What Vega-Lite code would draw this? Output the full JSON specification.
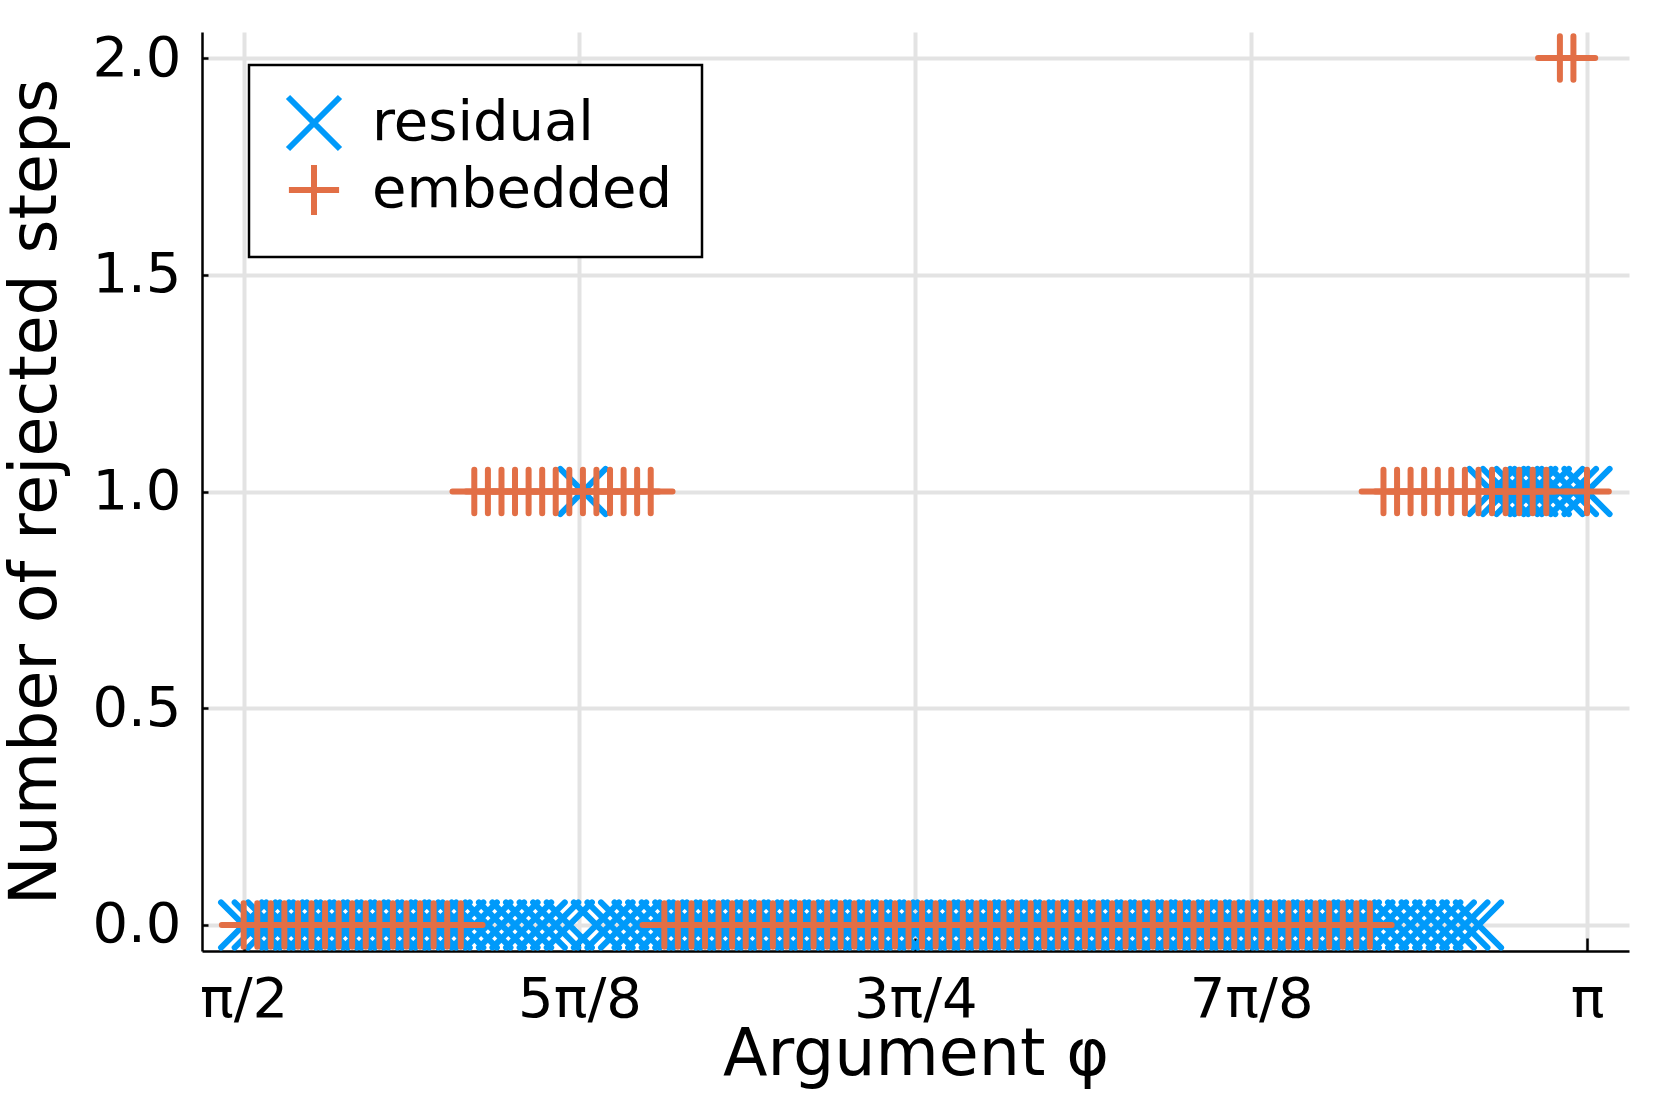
{
"$schema": "https://vega.github.io/schema/vega-lite/v6.json",
"width": 1427,
"height": 919,
"autosize": {"type": "none"},
"padding": {"left": 202, "top": 32, "right": 32, "bottom": 156},
"background": "white",
"config": {"view": {"stroke": null}, "font": "DejaVu Sans", "legend": {"strokeWidth": 2.5}},
"data": {"values": [
{"phi":1.5708,"steps":0,"method":"residual"},{"phi":1.5867,"steps":0,"method":"residual"},{"phi":1.6025,"steps":0,"method":"residual"},{"phi":1.6184,"steps":0,"method":"residual"},{"phi":1.6343,"steps":0,"method":"residual"},{"phi":1.6501,"steps":0,"method":"residual"},{"phi":1.6660,"steps":0,"method":"residual"},{"phi":1.6819,"steps":0,"method":"residual"},{"phi":1.6977,"steps":0,"method":"residual"},{"phi":1.7136,"steps":0,"method":"residual"},
{"phi":1.7295,"steps":0,"method":"residual"},{"phi":1.7453,"steps":0,"method":"residual"},{"phi":1.7612,"steps":0,"method":"residual"},{"phi":1.7771,"steps":0,"method":"residual"},{"phi":1.7929,"steps":0,"method":"residual"},{"phi":1.8088,"steps":0,"method":"residual"},{"phi":1.8247,"steps":0,"method":"residual"},{"phi":1.8405,"steps":0,"method":"residual"},{"phi":1.8564,"steps":0,"method":"residual"},{"phi":1.8723,"steps":0,"method":"residual"},
{"phi":1.8881,"steps":0,"method":"residual"},{"phi":1.9040,"steps":0,"method":"residual"},{"phi":1.9199,"steps":0,"method":"residual"},{"phi":1.9357,"steps":0,"method":"residual"},{"phi":1.9516,"steps":0,"method":"residual"},{"phi":1.9675,"steps":1,"method":"residual"},{"phi":1.9833,"steps":0,"method":"residual"},{"phi":1.9992,"steps":0,"method":"residual"},{"phi":2.0151,"steps":0,"method":"residual"},{"phi":2.0309,"steps":0,"method":"residual"},
{"phi":2.0468,"steps":0,"method":"residual"},{"phi":2.0627,"steps":0,"method":"residual"},{"phi":2.0785,"steps":0,"method":"residual"},{"phi":2.0944,"steps":0,"method":"residual"},{"phi":2.1103,"steps":0,"method":"residual"},{"phi":2.1261,"steps":0,"method":"residual"},{"phi":2.1420,"steps":0,"method":"residual"},{"phi":2.1579,"steps":0,"method":"residual"},{"phi":2.1737,"steps":0,"method":"residual"},{"phi":2.1896,"steps":0,"method":"residual"},
{"phi":2.2055,"steps":0,"method":"residual"},{"phi":2.2213,"steps":0,"method":"residual"},{"phi":2.2372,"steps":0,"method":"residual"},{"phi":2.2531,"steps":0,"method":"residual"},{"phi":2.2689,"steps":0,"method":"residual"},{"phi":2.2848,"steps":0,"method":"residual"},{"phi":2.3007,"steps":0,"method":"residual"},{"phi":2.3165,"steps":0,"method":"residual"},{"phi":2.3324,"steps":0,"method":"residual"},{"phi":2.3483,"steps":0,"method":"residual"},
{"phi":2.3641,"steps":0,"method":"residual"},{"phi":2.3800,"steps":0,"method":"residual"},{"phi":2.3959,"steps":0,"method":"residual"},{"phi":2.4117,"steps":0,"method":"residual"},{"phi":2.4276,"steps":0,"method":"residual"},{"phi":2.4435,"steps":0,"method":"residual"},{"phi":2.4593,"steps":0,"method":"residual"},{"phi":2.4752,"steps":0,"method":"residual"},{"phi":2.4911,"steps":0,"method":"residual"},{"phi":2.5069,"steps":0,"method":"residual"},
{"phi":2.5228,"steps":0,"method":"residual"},{"phi":2.5387,"steps":0,"method":"residual"},{"phi":2.5545,"steps":0,"method":"residual"},{"phi":2.5704,"steps":0,"method":"residual"},{"phi":2.5863,"steps":0,"method":"residual"},{"phi":2.6021,"steps":0,"method":"residual"},{"phi":2.6180,"steps":0,"method":"residual"},{"phi":2.6339,"steps":0,"method":"residual"},{"phi":2.6497,"steps":0,"method":"residual"},{"phi":2.6656,"steps":0,"method":"residual"},
{"phi":2.6815,"steps":0,"method":"residual"},{"phi":2.6973,"steps":0,"method":"residual"},{"phi":2.7132,"steps":0,"method":"residual"},{"phi":2.7291,"steps":0,"method":"residual"},{"phi":2.7449,"steps":0,"method":"residual"},{"phi":2.7608,"steps":0,"method":"residual"},{"phi":2.7767,"steps":0,"method":"residual"},{"phi":2.7925,"steps":0,"method":"residual"},{"phi":2.8084,"steps":0,"method":"residual"},{"phi":2.8243,"steps":0,"method":"residual"},
{"phi":2.8401,"steps":0,"method":"residual"},{"phi":2.8560,"steps":0,"method":"residual"},{"phi":2.8719,"steps":0,"method":"residual"},{"phi":2.8877,"steps":0,"method":"residual"},{"phi":2.9036,"steps":0,"method":"residual"},{"phi":2.9195,"steps":0,"method":"residual"},{"phi":2.9353,"steps":0,"method":"residual"},{"phi":2.9512,"steps":0,"method":"residual"},{"phi":2.9671,"steps":0,"method":"residual"},{"phi":2.9829,"steps":0,"method":"residual"},
{"phi":2.9988,"steps":0,"method":"residual"},{"phi":3.0147,"steps":0,"method":"residual"},{"phi":3.0305,"steps":1,"method":"residual"},{"phi":3.0464,"steps":1,"method":"residual"},{"phi":3.0623,"steps":1,"method":"residual"},{"phi":3.0781,"steps":1,"method":"residual"},{"phi":3.0940,"steps":1,"method":"residual"},{"phi":3.1099,"steps":1,"method":"residual"},{"phi":3.1257,"steps":1,"method":"residual"},{"phi":3.1416,"steps":1,"method":"residual"},
{"phi":1.5708,"steps":0,"method":"embedded"},{"phi":1.5867,"steps":0,"method":"embedded"},{"phi":1.6025,"steps":0,"method":"embedded"},{"phi":1.6184,"steps":0,"method":"embedded"},{"phi":1.6343,"steps":0,"method":"embedded"},{"phi":1.6501,"steps":0,"method":"embedded"},{"phi":1.6660,"steps":0,"method":"embedded"},{"phi":1.6819,"steps":0,"method":"embedded"},{"phi":1.6977,"steps":0,"method":"embedded"},{"phi":1.7136,"steps":0,"method":"embedded"},
{"phi":1.7295,"steps":0,"method":"embedded"},{"phi":1.7453,"steps":0,"method":"embedded"},{"phi":1.7612,"steps":0,"method":"embedded"},{"phi":1.7771,"steps":0,"method":"embedded"},{"phi":1.7929,"steps":0,"method":"embedded"},{"phi":1.8088,"steps":0,"method":"embedded"},{"phi":1.8247,"steps":0,"method":"embedded"},{"phi":1.8405,"steps":1,"method":"embedded"},{"phi":1.8564,"steps":1,"method":"embedded"},{"phi":1.8723,"steps":1,"method":"embedded"},
{"phi":1.8881,"steps":1,"method":"embedded"},{"phi":1.9040,"steps":1,"method":"embedded"},{"phi":1.9199,"steps":1,"method":"embedded"},{"phi":1.9357,"steps":1,"method":"embedded"},{"phi":1.9516,"steps":1,"method":"embedded"},{"phi":1.9675,"steps":1,"method":"embedded"},{"phi":1.9833,"steps":1,"method":"embedded"},{"phi":1.9992,"steps":1,"method":"embedded"},{"phi":2.0151,"steps":1,"method":"embedded"},{"phi":2.0309,"steps":1,"method":"embedded"},
{"phi":2.0468,"steps":1,"method":"embedded"},{"phi":2.0627,"steps":0,"method":"embedded"},{"phi":2.0785,"steps":0,"method":"embedded"},{"phi":2.0944,"steps":0,"method":"embedded"},{"phi":2.1103,"steps":0,"method":"embedded"},{"phi":2.1261,"steps":0,"method":"embedded"},{"phi":2.1420,"steps":0,"method":"embedded"},{"phi":2.1579,"steps":0,"method":"embedded"},{"phi":2.1737,"steps":0,"method":"embedded"},{"phi":2.1896,"steps":0,"method":"embedded"},
{"phi":2.2055,"steps":0,"method":"embedded"},{"phi":2.2213,"steps":0,"method":"embedded"},{"phi":2.2372,"steps":0,"method":"embedded"},{"phi":2.2531,"steps":0,"method":"embedded"},{"phi":2.2689,"steps":0,"method":"embedded"},{"phi":2.2848,"steps":0,"method":"embedded"},{"phi":2.3007,"steps":0,"method":"embedded"},{"phi":2.3165,"steps":0,"method":"embedded"},{"phi":2.3324,"steps":0,"method":"embedded"},{"phi":2.3483,"steps":0,"method":"embedded"},
{"phi":2.3641,"steps":0,"method":"embedded"},{"phi":2.3800,"steps":0,"method":"embedded"},{"phi":2.3959,"steps":0,"method":"embedded"},{"phi":2.4117,"steps":0,"method":"embedded"},{"phi":2.4276,"steps":0,"method":"embedded"},{"phi":2.4435,"steps":0,"method":"embedded"},{"phi":2.4593,"steps":0,"method":"embedded"},{"phi":2.4752,"steps":0,"method":"embedded"},{"phi":2.4911,"steps":0,"method":"embedded"},{"phi":2.5069,"steps":0,"method":"embedded"},
{"phi":2.5228,"steps":0,"method":"embedded"},{"phi":2.5387,"steps":0,"method":"embedded"},{"phi":2.5545,"steps":0,"method":"embedded"},{"phi":2.5704,"steps":0,"method":"embedded"},{"phi":2.5863,"steps":0,"method":"embedded"},{"phi":2.6021,"steps":0,"method":"embedded"},{"phi":2.6180,"steps":0,"method":"embedded"},{"phi":2.6339,"steps":0,"method":"embedded"},{"phi":2.6497,"steps":0,"method":"embedded"},{"phi":2.6656,"steps":0,"method":"embedded"},
{"phi":2.6815,"steps":0,"method":"embedded"},{"phi":2.6973,"steps":0,"method":"embedded"},{"phi":2.7132,"steps":0,"method":"embedded"},{"phi":2.7291,"steps":0,"method":"embedded"},{"phi":2.7449,"steps":0,"method":"embedded"},{"phi":2.7608,"steps":0,"method":"embedded"},{"phi":2.7767,"steps":0,"method":"embedded"},{"phi":2.7925,"steps":0,"method":"embedded"},{"phi":2.8084,"steps":0,"method":"embedded"},{"phi":2.8243,"steps":0,"method":"embedded"},
{"phi":2.8401,"steps":0,"method":"embedded"},{"phi":2.8560,"steps":0,"method":"embedded"},{"phi":2.8719,"steps":0,"method":"embedded"},{"phi":2.8877,"steps":0,"method":"embedded"},{"phi":2.9036,"steps":1,"method":"embedded"},{"phi":2.9195,"steps":1,"method":"embedded"},{"phi":2.9353,"steps":1,"method":"embedded"},{"phi":2.9512,"steps":1,"method":"embedded"},{"phi":2.9671,"steps":1,"method":"embedded"},{"phi":2.9829,"steps":1,"method":"embedded"},
{"phi":2.9988,"steps":1,"method":"embedded"},{"phi":3.0147,"steps":1,"method":"embedded"},{"phi":3.0305,"steps":1,"method":"embedded"},{"phi":3.0464,"steps":1,"method":"embedded"},{"phi":3.0623,"steps":1,"method":"embedded"},{"phi":3.0781,"steps":1,"method":"embedded"},{"phi":3.0940,"steps":1,"method":"embedded"},{"phi":3.1099,"steps":2,"method":"embedded"},{"phi":3.1257,"steps":2,"method":"embedded"},{"phi":3.1416,"steps":1,"method":"embedded"}
]},
"mark": {"type": "point", "filled": false, "strokeWidth": 6, "strokeCap": "round", "opacity": 1, "size": 2043},
"encoding": {
"x": {"field": "phi", "type": "quantitative",
"scale": {"domain": [1.5221, 3.1907], "nice": false, "zero": false},
"axis": {"title": "Argument φ", "values": [1.5707963, 1.9634954, 2.3561945, 2.7488936, 3.1415927],
"labelExpr": "datum.value < 1.7 ? 'π/2' : datum.value < 2.1 ? '5π/8' : datum.value < 2.5 ? '3π/4' : datum.value < 2.9 ? '7π/8' : 'π'",
"labelFontSize": 56, "titleFontSize": 65, "labelFont": "DejaVu Sans", "titleFont": "DejaVu Sans", "titleFontWeight": "normal",
"labelColor": "black", "titleColor": "black", "domainColor": "black", "domainWidth": 2.5, "tickColor": "black", "tickWidth": 2.5,
"tickSize": -13, "labelPadding": 34, "titlePadding": -4, "labelOverlap": false, "labelFlush": false,
"gridColor": "#e3e3e3", "gridWidth": 4, "gridOpacity": 1}},
"y": {"field": "steps", "type": "quantitative",
"scale": {"domain": [-0.06, 2.06], "nice": false, "zero": false},
"axis": {"title": "Number of rejected steps", "values": [0, 0.5, 1, 1.5, 2], "format": ".1f",
"labelFontSize": 56, "titleFontSize": 65, "labelFont": "DejaVu Sans", "titleFont": "DejaVu Sans", "titleFontWeight": "normal",
"labelColor": "black", "titleColor": "black", "domainColor": "black", "domainWidth": 2.5, "tickColor": "black", "tickWidth": 2.5,
"tickSize": -6, "labelPadding": 27, "titlePadding": 22, "labelOverlap": false,
"gridColor": "#e3e3e3", "gridWidth": 4, "gridOpacity": 1}},
"color": {"field": "method", "type": "nominal",
"scale": {"domain": ["residual", "embedded"], "range": ["#009AFA", "#E26F46"]},
"legend": {"title": null, "orient": "none", "legendX": 47, "legendY": 33, "padding": 29,
"strokeColor": "black", "fillColor": "white", "symbolSize": 2704, "symbolStrokeWidth": 6, "symbolOffset": 7,
"labelOffset": 29, "labelFontSize": 56, "labelFont": "DejaVu Sans", "labelColor": "black", "rowPadding": -13, "labelLimit": 1000,
"encode": {"symbols": {"update": {"strokeCap": {"value": "round"}}}, "legend": {"update": {"strokeWidth": {"value": 2.5}}}}}},
"shape": {"field": "method", "type": "nominal",
"scale": {"domain": ["residual", "embedded"], "range": ["M-1,-1L1,1M-1,1L1,-1", "M-0.965,0L0.965,0M0,-0.965L0,0.965"]},
"legend": {"title": null, "orient": "none", "legendX": 47, "legendY": 33, "padding": 29,
"strokeColor": "black", "fillColor": "white", "symbolSize": 2704, "symbolStrokeWidth": 6, "symbolOffset": 7,
"labelOffset": 29, "labelFontSize": 56, "labelFont": "DejaVu Sans", "labelColor": "black", "rowPadding": -13, "labelLimit": 1000,
"encode": {"symbols": {"update": {"strokeCap": {"value": "round"}}}, "legend": {"update": {"strokeWidth": {"value": 2.5}}}}}}
}
}
